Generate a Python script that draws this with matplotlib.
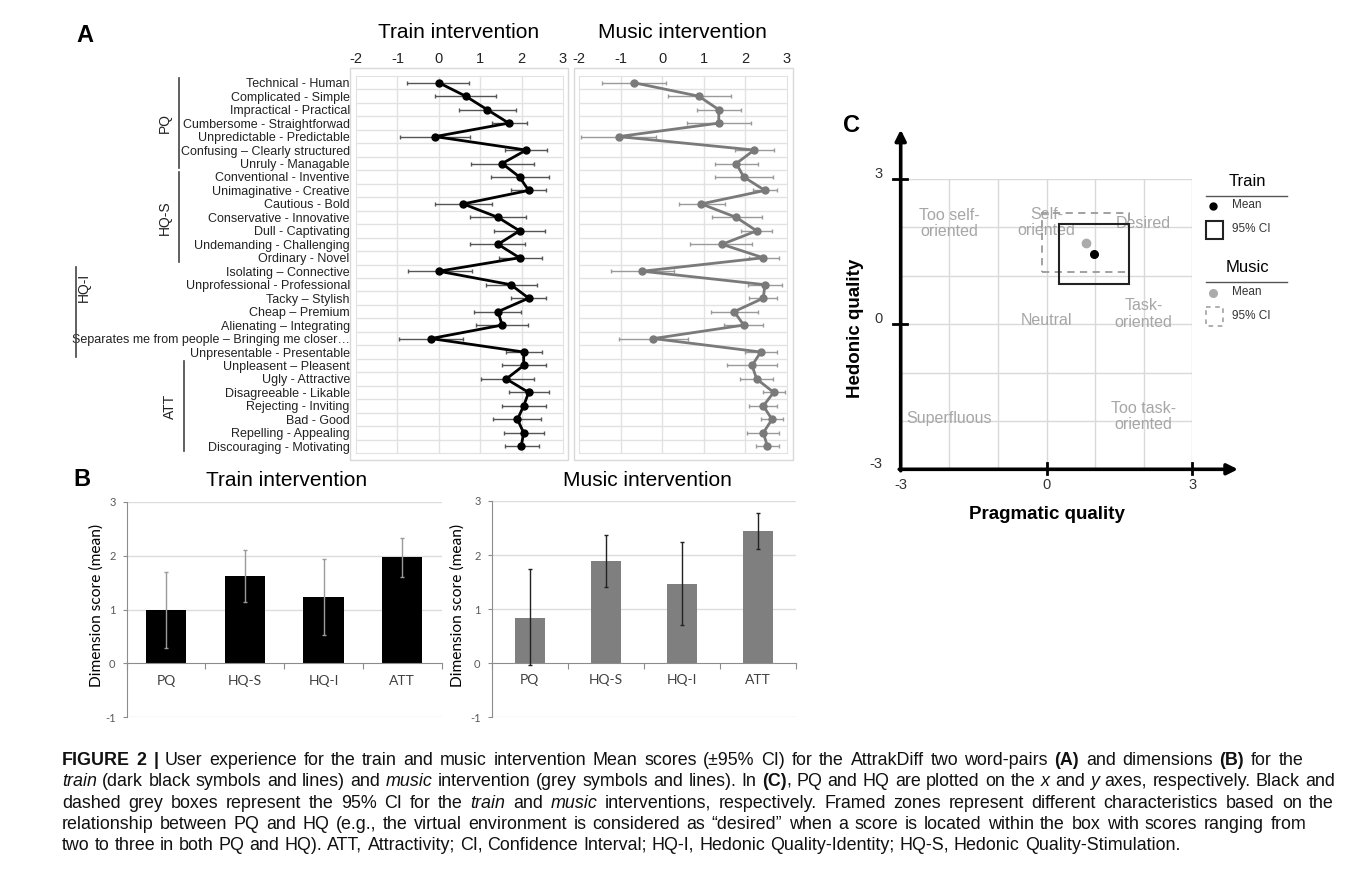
import numpy as np
import matplotlib
matplotlib.use("Agg")
import matplotlib.pyplot as plt
import matplotlib.patches as mpatches
from matplotlib.transforms import blended_transform_factory

plt.rcParams['font.family'] = ['Liberation Sans', 'DejaVu Sans']
plt.rcParams['axes.unicode_minus'] = False

W, H = 1356, 885

# ---- panel A: AttrakDiff word pairs ----
word_pairs = [
    "Technical - Human", "Complicated - Simple", "Impractical - Practical",
    "Cumbersome - Straightforwad", "Unpredictable - Predictable",
    "Confusing \u2013 Clearly structured", "Unruly - Managable",
    "Conventional - Inventive", "Unimaginative - Creative", "Cautious - Bold",
    "Conservative - Innovative", "Dull - Captivating",
    "Undemanding - Challenging", "Ordinary - Novel",
    "Isolating \u2013 Connective", "Unprofessional - Professional",
    "Tacky \u2013 Stylish", "Cheap \u2013 Premium", "Alienating \u2013 Integrating",
    "Separates me from people \u2013 Bringing me closer\u2026",
    "Unpresentable - Presentable", "Unpleasent \u2013 Pleasent",
    "Ugly - Attractive", "Disagreeable - Likable", "Rejecting - Inviting",
    "Bad - Good", "Repelling - Appealing", "Discouraging - Motivating",
]
train_mean = [0.00, 0.65, 1.17, 1.69, -0.09, 2.11, 1.53, 1.95, 2.17, 0.59,
              1.43, 1.95, 1.43, 1.95, 0.00, 1.74, 2.17, 1.43, 1.53, -0.19,
              2.05, 2.05, 1.63, 2.17, 2.05, 1.90, 2.05, 1.99]
train_lo = [-0.77, -0.09, 0.49, 1.29, -0.93, 1.61, 0.78, 1.26, 1.74, -0.09,
            0.75, 1.34, 0.76, 1.45, -0.75, 1.13, 1.74, 0.86, 0.91, -0.97,
            1.63, 1.53, 1.01, 1.69, 1.53, 1.31, 1.58, 1.61]
train_hi = [0.73, 1.39, 1.86, 2.13, 0.75, 2.62, 2.29, 2.65, 2.59, 1.29,
            2.11, 2.57, 2.09, 2.50, 0.81, 2.38, 2.59, 1.99, 2.15, 0.59,
            2.49, 2.59, 2.29, 2.65, 2.59, 2.47, 2.53, 2.41]
music_mean = [-0.68, 0.88, 1.36, 1.36, -1.05, 2.21, 1.78, 1.96, 2.47, 0.94,
              1.78, 2.27, 1.44, 2.43, -0.48, 2.47, 2.43, 1.73, 1.96, -0.21,
              2.37, 2.16, 2.27, 2.68, 2.43, 2.64, 2.43, 2.53]
music_lo = [-1.45, 0.15, 0.84, 0.60, -1.95, 1.74, 1.28, 1.26, 2.18, 0.40,
            1.20, 1.89, 0.67, 2.08, -1.23, 2.06, 2.08, 1.18, 1.49, -1.03,
            2.00, 1.56, 1.86, 2.43, 2.08, 2.37, 2.04, 2.25]
music_hi = [0.10, 1.65, 1.90, 2.14, -0.16, 2.68, 2.31, 2.67, 2.76, 1.50,
            2.39, 2.64, 2.17, 2.81, 0.28, 2.89, 2.77, 2.31, 2.43, 0.63,
            2.76, 2.77, 2.67, 2.95, 2.77, 2.91, 2.81, 2.81]
groups = [("PQ", 0, 6), ("HQ-S", 7, 13), ("HQ-I", 14, 20), ("ATT", 21, 27)]

# ---- panel B: dimensions ----
dims = ["PQ", "HQ-S", "HQ-I", "ATT"]
train_dim = [0.99, 1.63, 1.24, 1.97]
train_dim_lo = [0.28, 1.15, 0.53, 1.60]
train_dim_hi = [1.70, 2.11, 1.94, 2.34]
music_dim = [0.84, 1.88, 1.47, 2.44]
music_dim_lo = [-0.04, 1.41, 0.71, 2.12]
music_dim_hi = [1.74, 2.37, 2.24, 2.77]

# ---- panel C: portfolio ----
train_pq, train_hq = 0.97, 1.45
train_pq_ci = [0.26, 1.69]
train_hq_ci = [0.82, 2.08]
music_pq, music_hq = 0.81, 1.68
music_pq_ci = [-0.10, 1.69]
music_hq_ci = [1.07, 2.30]
zone_names = ["Too self-\noriented", "Self-\noriented", "Desired", "Neutral",
              "Task-\noriented", "Superfluous", "Too task-\noriented"]
zone_x = [-2.0, 0.0, 2.0, 0.0, 2.0, -2.0, 2.0]
zone_y = [2.08, 2.10, 2.08, 0.07, 0.21, -1.95, -1.91]

fig = plt.figure(figsize=(W / 100, H / 100), dpi=100)

ov = fig.add_axes([0, 0, 1, 1])
ov.set_xlim(0, W)
ov.set_ylim(H, 0)
ov.axis("off")


def px_axes(x0, y0, x1, y1):
    return fig.add_axes([x0 / W, 1 - y1 / H, (x1 - x0) / W, (y1 - y0) / H])


# ================= A =================
def word_pair_panel(ax, mean, lo, hi, line_col, err_col, labels):
    mean, lo, hi = np.array(mean), np.array(lo), np.array(hi)
    rows = np.arange(len(mean))
    ax.set_xlim(-2, 3)
    ax.set_ylim(len(rows) - 0.5, -0.5)
    for v in (-1, 0, 1, 2):
        ax.axvline(v, color="#e2e2e2", lw=1, zorder=0)
    for r in rows[:-1]:
        ax.axhline(r + 0.5, color="#e2e2e2", lw=1, zorder=0)
    ax.errorbar(mean, rows, xerr=[mean - lo, hi - mean], fmt="none",
                ecolor=err_col, elinewidth=1, capsize=1.5, capthick=1, zorder=2)
    ax.plot(mean, rows, "-o", color=line_col, lw=2, ms=5, zorder=3)
    ax.xaxis.tick_top()
    ax.set_xticks(range(-2, 4))
    ax.tick_params(axis="x", length=0, pad=7, labelsize=10.5, labelcolor="#222")
    if labels:
        ax.set_yticks(rows)
        ax.set_yticklabels(word_pairs, fontsize=9)
        ax.tick_params(axis="y", length=0, pad=4.5, labelcolor="#222")
    else:
        ax.set_yticks([])
    for s in ax.spines.values():
        s.set_color("#e2e2e2")


axA1 = px_axes(356, 76, 563, 453)
word_pair_panel(axA1, train_mean, train_lo, train_hi, "black", "#555555", True)
axA2 = px_axes(579, 76, 787, 453)
word_pair_panel(axA2, music_mean, music_lo, music_hi, "#7a7a7a", "#9a9a9a", False)

ov.add_patch(mpatches.Rectangle((350, 68), 218, 392, fill=False, ec="#d9d9d9", lw=1))
ov.add_patch(mpatches.Rectangle((574, 68), 219, 392, fill=False, ec="#d9d9d9", lw=1))
ov.text(459, 33, "Train intervention", fontsize=15, ha="center", va="center")
ov.text(682, 33, "Music intervention", fontsize=15, ha="center", va="center")

# group brackets
tr = blended_transform_factory(axA1.transAxes, axA1.transData)
bracket_x = {"PQ": -0.855, "HQ-S": -0.855, "HQ-I": -1.353, "ATT": -0.831}
label_x = {"PQ": -0.923, "HQ-S": -0.923, "HQ-I": -1.315, "ATT": -0.897}
for name, a, b in groups:
    bx = bracket_x[name]
    axA1.plot([bx, bx], [a - 0.35, b + 0.35], color="#444", lw=1.2,
              transform=tr, clip_on=False)
    ly = a + 1.2 if name == "HQ-I" else (a + b) / 2
    axA1.text(label_x[name], ly, name, rotation=90, fontsize=10,
              ha="center", va="center", transform=tr, color="#222")

ov.text(85, 36, "A", fontsize=17, fontweight="bold", ha="center", va="center")


# ================= B =================
def dim_panel(ax, mean, lo, hi, bar_col, err_col, width):
    mean, lo, hi = np.array(mean), np.array(lo), np.array(hi)
    x = np.arange(len(dims))
    ax.set_xlim(-0.5, len(dims) - 0.5)
    ax.set_ylim(-1, 3)
    for v in (-1, 1, 2, 3):
        ax.axhline(v, color="#dcdcdc", lw=1, zorder=0)
    ax.bar(x, mean, width=width, color=bar_col, zorder=2)
    ax.errorbar(x, mean, yerr=[mean - lo, hi - mean], fmt="none",
                ecolor=err_col, elinewidth=1, capsize=1.5, zorder=3)
    ax.spines["top"].set_visible(False)
    ax.spines["right"].set_visible(False)
    ax.spines["left"].set_color("#8c8c8c")
    ax.spines["bottom"].set_position(("data", 0))
    ax.spines["bottom"].set_color("#8c8c8c")
    ax.set_xticks(np.arange(len(dims) + 1) - 0.5)
    ax.set_xticklabels([])
    ax.set_xticks(x, minor=True)
    ax.set_xticklabels(dims, minor=True, fontfamily="Lato", fontsize=10, color="#404040")
    ax.tick_params(axis="x", which="major", direction="out", length=4, color="#8c8c8c")
    ax.tick_params(axis="x", which="minor", length=0, pad=8)
    ax.set_yticks([-1, 0, 1, 2, 3])
    ax.tick_params(axis="y", direction="out", length=3, color="#8c8c8c",
                   labelsize=8, labelcolor="#595959", pad=5)
    for t in ax.get_yticklabels():
        t.set_fontfamily("Lato")
    ax.patch.set_alpha(0)


axB1 = px_axes(126.7, 502, 441.7, 717.3)
dim_panel(axB1, train_dim, train_dim_lo, train_dim_hi, "black", "#9a9a9a", 0.51)
axB2 = px_axes(491.7, 501, 796, 717)
dim_panel(axB2, music_dim, music_dim_lo, music_dim_hi, "#7f7f7f", "#222222", 0.4)

ov.text(287, 480, "Train intervention", fontsize=15, ha="center", va="center")
ov.text(647, 480, "Music intervention", fontsize=15, ha="center", va="center")
ov.text(97, 605, "Dimension score (mean)", fontsize=11.2, rotation=90,
        ha="center", va="center", fontfamily="Lato")
ov.text(458, 605, "Dimension score (mean)", fontsize=11.2, rotation=90,
        ha="center", va="center", fontfamily="Lato")
ov.text(82, 480, "B", fontsize=17, fontweight="bold", ha="center", va="center")

# ================= C =================
axC = px_axes(900.7, 179, 1192.3, 469.3)
axC.set_xlim(-3, 3)
axC.set_ylim(-3, 3)
axC.axis("off")
for v in range(-2, 4):
    axC.plot([v, v], [-3, 3], color="#d9d9d9", lw=1, zorder=0)
    axC.plot([-3, 3], [v, v], color="#d9d9d9", lw=1, zorder=0)
axC.annotate("", xy=(3.94, -3), xytext=(-3.03, -3), annotation_clip=False,
             arrowprops=dict(arrowstyle="-|>", color="black", lw=2.6,
                             mutation_scale=16, shrinkA=0, shrinkB=0))
axC.annotate("", xy=(-3, 4.02), xytext=(-3, -3.03), annotation_clip=False,
             arrowprops=dict(arrowstyle="-|>", color="black", lw=2.6,
                             mutation_scale=16, shrinkA=0, shrinkB=0))
for v in (0, 3):
    axC.plot([v, v], [-3.1, -2.86], color="black", lw=2, clip_on=False)
    axC.plot([-3.15, -2.87], [v, v], color="black", lw=2, clip_on=False)
for v in (-3, 0, 3):
    axC.text(v, -3.33, str(v), fontsize=10.5, ha="center", va="center", color="#333")
    axC.text(-3.38, v + 0.1, str(v), fontsize=10.5, ha="right", va="center", color="#333")
axC.text(0, -3.93, "Pragmatic quality", fontsize=13.5, fontweight="bold",
         ha="center", va="center")
axC.text(-3.94, -0.09, "Hedonic quality", fontsize=13.5, fontweight="bold",
         rotation=90, ha="center", va="center")
for name, zx, zy in zip(zone_names, zone_x, zone_y):
    axC.text(zx, zy, name, fontsize=11.5, color="#a6a6a6", ha="center",
             va="center", linespacing=1.15)

axC.add_patch(mpatches.Rectangle((music_pq_ci[0], music_hq_ci[0]),
                                 music_pq_ci[1] - music_pq_ci[0],
                                 music_hq_ci[1] - music_hq_ci[0],
                                 fill=False, ec="#9a9a9a", lw=1.3, ls=(0, (4, 3)), zorder=3))
axC.add_patch(mpatches.Rectangle((train_pq_ci[0], train_hq_ci[0]),
                                 train_pq_ci[1] - train_pq_ci[0],
                                 train_hq_ci[1] - train_hq_ci[0],
                                 fill=False, ec="#222222", lw=1.5, zorder=4))
axC.plot([music_pq], [music_hq], "o", color="#ababab", ms=6, zorder=5)
axC.plot([train_pq], [train_hq], "o", color="black", ms=5.5, zorder=6)

# legend
ov.text(1247, 181, "Train", fontsize=12, ha="center", va="center")
ov.plot([1206, 1287], [196, 196], color="#555", lw=1)
ov.plot([1213], [206], "o", color="black", ms=5)
ov.text(1232, 205, "Mean", fontsize=8.5, ha="left", va="center", color="#333")
ov.add_patch(mpatches.Rectangle((1206, 221), 16.5, 17.5, fill=False, ec="#222", lw=1.5))
ov.text(1232, 229, "95% CI", fontsize=8.5, ha="left", va="center", color="#333")
ov.text(1247, 267, "Music", fontsize=12, ha="center", va="center")
ov.plot([1206, 1287], [282, 282], color="#555", lw=1)
ov.plot([1213], [293], "o", color="#ababab", ms=5.5)
ov.text(1232, 292, "Mean", fontsize=8.5, ha="left", va="center", color="#333")
ov.add_patch(mpatches.Rectangle((1206, 307), 16.5, 19, fill=False, ec="#9a9a9a",
                                lw=1.1, ls=(0, (3, 3))))
ov.text(1232, 316, "95% CI", fontsize=8.5, ha="left", va="center", color="#333")
ov.text(852, 125, "C", fontsize=17, fontweight="bold", ha="center", va="center")

# ================= caption =================
caption = [
    [("FIGURE 2 |", "b"), (" User experience for the train and music intervention Mean scores (\u00b195% CI) for the AttrakDiff two word-pairs ", "n"),
     ("(A)", "b"), (" and dimensions ", "n"), ("(B)", "b"), (" for the", "n")],
    [("train", "i"), (" (dark black symbols and lines) and ", "n"), ("music", "i"),
     (" intervention (grey symbols and lines). In ", "n"), ("(C)", "b"),
     (", PQ and HQ are plotted on the ", "n"), ("x", "i"), (" and ", "n"), ("y", "i"),
     (" axes, respectively. Black and", "n")],
    [("dashed grey boxes represent the 95% CI for the ", "n"), ("train", "i"), (" and ", "n"),
     ("music", "i"), (" interventions, respectively. Framed zones represent different characteristics based on the", "n")],
    [("relationship between PQ and HQ (e.g., the virtual environment is considered as \u201cdesired\u201d when a score is located within the box with scores ranging from", "n")],
    [("two to three in both PQ and HQ). ATT, Attractivity; CI, Confidence Interval; HQ-I, Hedonic Quality-Identity; HQ-S, Hedonic Quality-Stimulation.", "n")],
]
cap_y = [760, 781, 803, 824, 845]
cap_end = [1303, 1335, 1334, 1306, None]   # None: natural (last line)
cap_x0 = 62
cap_size = 12.9
cap_font = ["Liberation Sans", "DejaVu Sans"]


def cap_style(st):
    return dict(fontsize=cap_size, family=cap_font, color="#111111",
                fontweight="bold" if st == "b" else "normal",
                fontstyle="italic" if st == "i" else "normal")


renderer = fig.canvas.get_renderer()


def text_width(s, st):
    t = ov.text(0, 0, s, **cap_style(st))
    w = t.get_window_extent(renderer).width
    t.remove()
    return w


def split_words(runs):
    words = []
    join = False
    for txt, st in runs:
        for i, part in enumerate(txt.split(" ")):
            if i > 0:
                join = False
            if part == "":
                continue
            if join and words:
                words[-1].append((part, st))
            else:
                words.append([(part, st)])
            join = True
    return words


space_w = text_width("a a", "n") - text_width("aa", "n")
for runs, y, end in zip(caption, cap_y, cap_end):
    words = split_words(runs)
    widths = [[text_width(p, st) for p, st in w] for w in words]
    total = sum(sum(w) for w in widths)
    gap = space_w
    if end is not None:
        gap = max(space_w * 0.8, (end - cap_x0 - total) / (len(words) - 1))
    x = cap_x0
    for w, ws in zip(words, widths):
        for (p, st), pw in zip(w, ws):
            ov.text(x, y + 5, p, ha="left", va="baseline", **cap_style(st))
            x += pw
        x += gap

fig.savefig("out.png", dpi=100)
